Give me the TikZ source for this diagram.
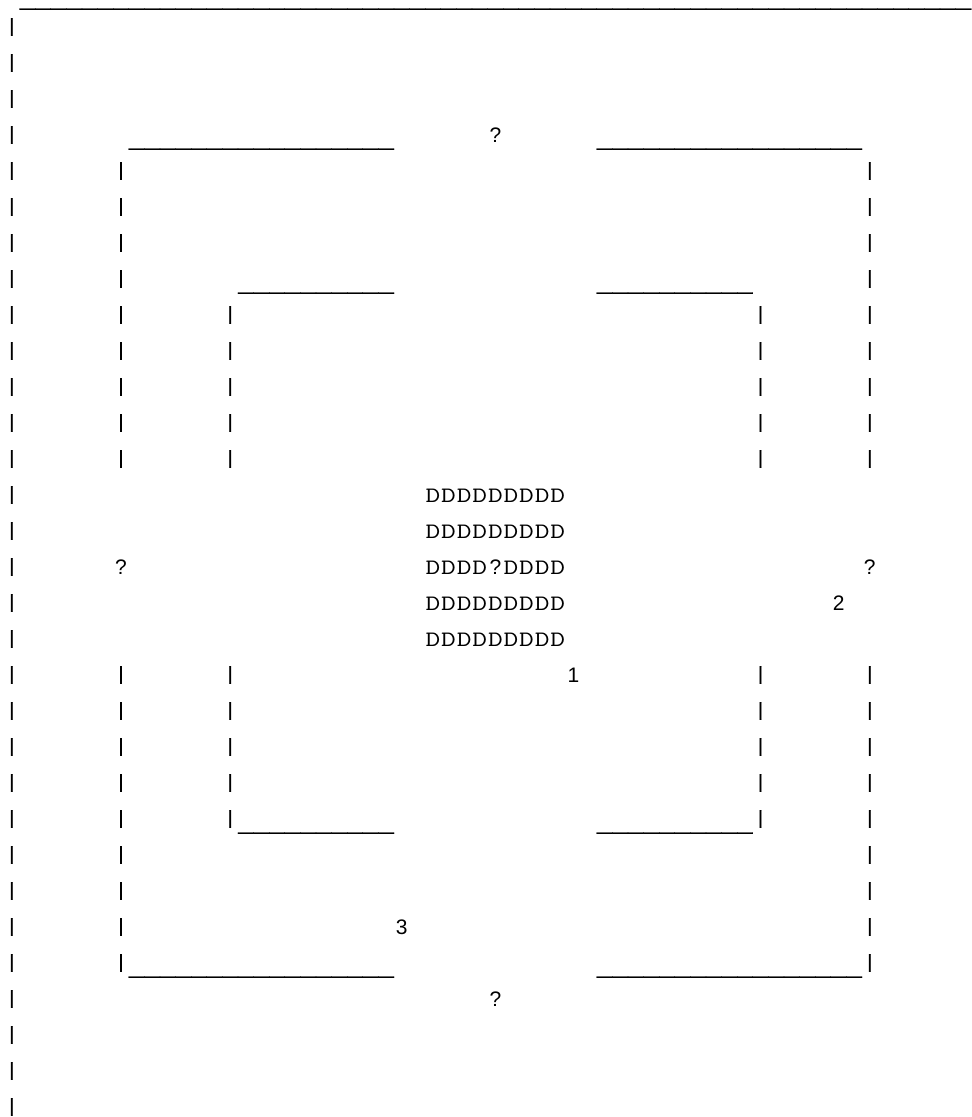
\documentclass[tikz,border=0pt]{standalone}
\usepackage{fontspec}
\newfontfamily\monofont[FakeBold=1]{Liberation Mono}
\newfontfamily\tagfont{Liberation Sans}
\newfontfamily\cellfont[FakeStretch=1.3]{Latin Modern Mono}

\begin{document}
\begin{tikzpicture}[
    bar/.style={font=\fontsize{19}{19}\selectfont\monofont, inner sep=0pt, anchor=center, yshift=7pt},
    rule/.style={font=\fontsize{26}{26}\selectfont\monofont, inner sep=0pt, anchor=base, yshift=-5pt},
    cellD/.style={font=\fontsize{22}{22}\selectfont\cellfont, inner sep=0pt, anchor=base},
    tag/.style={font=\fontsize{21}{21}\selectfont\tagfont, inner sep=0pt, anchor=base}
]
    \useasboundingbox (0pt,0pt) rectangle (972pt,-1117pt);

    \begin{scope}[x=15.6pt, y=-36pt, shift={(4pt,2pt)}]
    % top rule
    \foreach \c in {1,...,61}
        \node[rule, yshift=-4pt] (top\c) at (\c+0.5,0) {\_};

    % left margin
    \foreach \r in {1,...,31}
        \node[bar] (m\r) at (0.5,\r) {|};

    % outer frame
    \foreach \c in {7,55}
        \foreach \a/\b in {5/13,19/27}
            \foreach \r in {\a,...,\b}
                \node[bar] (o\c-\r) at (\c+0.5,\r) {|};
    \foreach \r in {4,27}
        \foreach \a/\b in {8/24,38/54}
            \foreach \c in {\a,...,\b}
                \node[rule] (ou\r-\c) at (\c+0.5,\r) {\_};

    % inner frame
    \foreach \c in {14,48}
        \foreach \a/\b in {9/13,19/23}
            \foreach \r in {\a,...,\b}
                \node[bar] (i\c-\r) at (\c+0.5,\r) {|};
    \foreach \r in {8,23}
        \foreach \a/\b in {15/24,38/47}
            \foreach \c in {\a,...,\b}
                \node[rule] (iu\r-\c) at (\c+0.5,\r) {\_};

    % centre block
    \foreach \r in {14,15,17,18}
        \foreach \c in {27,...,35}
            \node[cellD] (d\r-\c) at (\c+0.5,\r) {D};
    \foreach \c in {27,28,29,30,32,33,34,35}
        \node[cellD] (d16-\c) at (\c+0.5,16) {D};
    \node[tag] (qc) at (31.5,16) {?};

    % marks round the frame
    \node[tag] (qn) at (31.5,4) {?};
    \node[tag] (qs) at (31.5,28) {?};
    \node[tag] (qw) at (7.5,16) {?};
    \node[tag] (qe) at (55.5,16) {?};
    \node[tag] (n1) at (36.5,19) {1};
    \node[tag] (n2) at (53.5,17) {2};
    \node[tag] (n3) at (25.5,26) {3};
    \end{scope}
\end{tikzpicture}
\end{document}
